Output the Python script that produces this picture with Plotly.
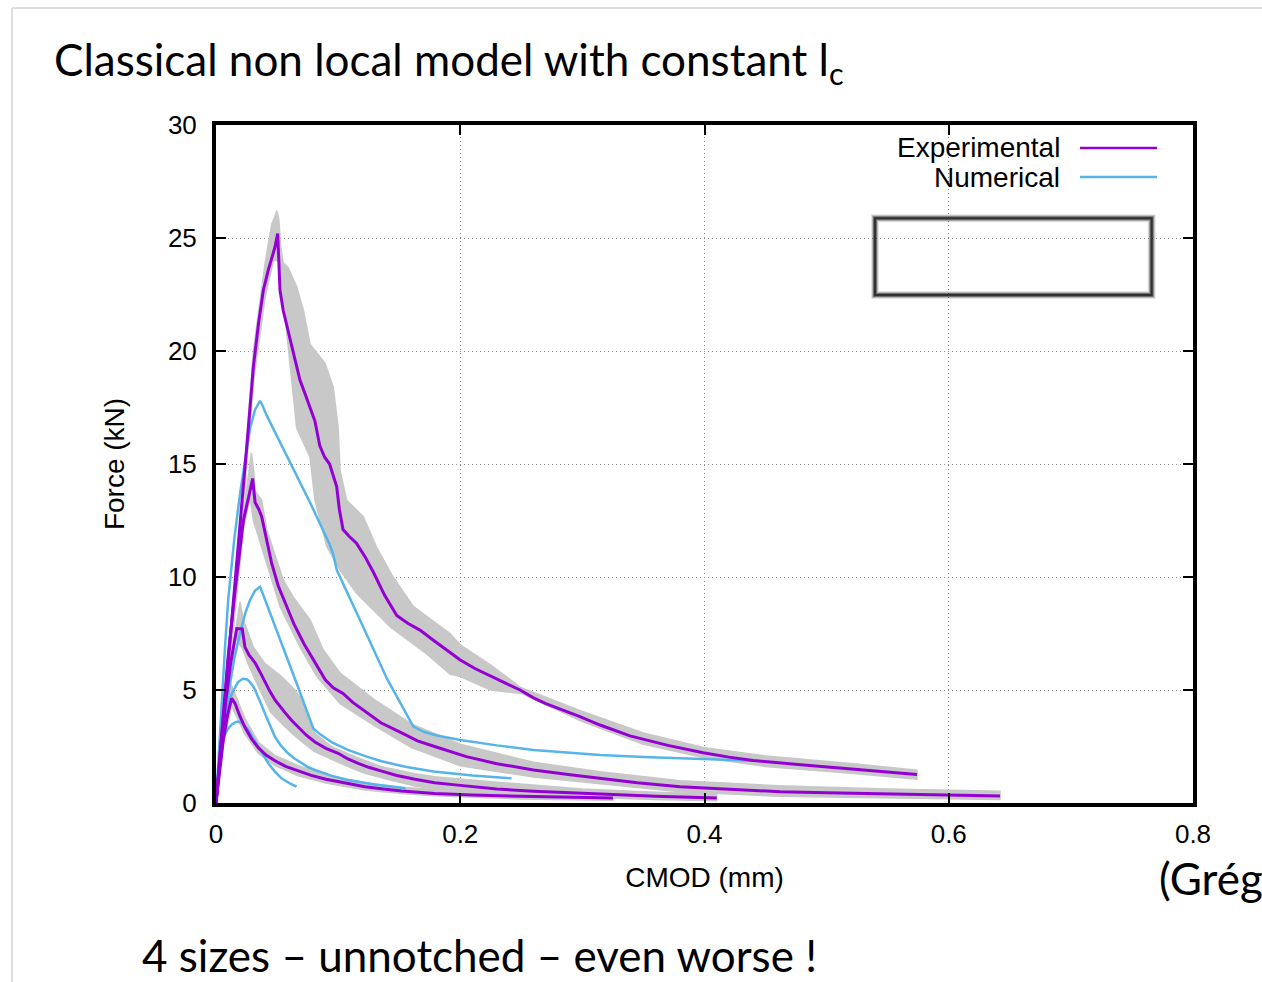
import plotly.graph_objects as go

# ---------------- data (CMOD in mm, force in kN) ----------------
# Experimental mean curves, four specimen sizes (largest first)
exp1_x = [0, 0.005, 0.01, 0.015, 0.0224, 0.0265, 0.0306, 0.035, 0.0388, 0.0429, 0.0483, 0.0505,
          0.0518, 0.0524, 0.055, 0.0606, 0.065, 0.0688, 0.073, 0.077, 0.081, 0.085, 0.089, 0.093,
          0.0988, 0.101, 0.104, 0.109, 0.115, 0.122, 0.129, 0.138, 0.148, 0.157, 0.167, 0.178,
          0.189, 0.2, 0.212, 0.225, 0.237, 0.249, 0.26, 0.27, 0.285, 0.298, 0.3145, 0.339, 0.37,
          0.399, 0.42, 0.44, 0.4765, 0.5165, 0.545, 0.574]
exp1_y = [0, 3.1, 6.2, 9.2, 13.7, 16.6, 19.3, 21.3, 22.7, 23.6, 24.6, 25.2,
          23.5, 22.7, 21.8, 20.5, 19.5, 18.7, 18.1, 17.5, 16.9, 15.8, 15.3, 15.0,
          14.0, 13.0, 12.1, 11.8, 11.5, 10.9, 10.2, 9.2, 8.3, 7.95, 7.65, 7.2,
          6.77, 6.33, 5.95, 5.6, 5.3, 5.0, 4.65, 4.4, 4.1, 3.82, 3.45, 2.97, 2.55,
          2.22, 2.03, 1.88, 1.7, 1.53, 1.38, 1.26]

exp2_x = [0, 0.005, 0.01, 0.015, 0.0224, 0.027, 0.030, 0.032, 0.035, 0.0374, 0.041, 0.0456,
          0.051, 0.057, 0.064, 0.072, 0.08, 0.0895, 0.096, 0.104, 0.112, 0.122, 0.135, 0.152,
          0.165, 0.179, 0.205, 0.23, 0.26, 0.29, 0.3145, 0.345, 0.38, 0.42, 0.462, 0.5, 0.55,
          0.6, 0.642]
exp2_y = [0, 3.4, 6.5, 9.1, 12.5, 13.6, 14.36, 13.3, 13.0, 12.67, 11.7, 10.6,
          9.6, 8.8, 7.9, 7.05, 6.3, 5.45, 5.1, 4.85, 4.45, 4.05, 3.55, 3.1,
          2.75, 2.5, 2.05, 1.74, 1.46, 1.25, 1.09, 0.9, 0.72, 0.6, 0.5, 0.45, 0.4,
          0.35, 0.31]

exp3_x = [0, 0.004, 0.008, 0.012, 0.017, 0.0215, 0.0237, 0.027, 0.032, 0.036, 0.040, 0.044,
          0.0483, 0.0525, 0.0565, 0.062, 0.0674, 0.074, 0.081, 0.09, 0.1, 0.108, 0.1165, 0.125,
          0.135, 0.148, 0.163, 0.179, 0.2, 0.23, 0.26, 0.3, 0.33, 0.36, 0.41]
exp3_y = [0, 2.4, 4.5, 6.2, 7.72, 7.7, 6.9, 6.55, 6.2, 5.8, 5.35, 4.95,
          4.56, 4.25, 4.0, 3.65, 3.35, 3.0, 2.7, 2.42, 2.2, 1.95, 1.75, 1.58,
          1.42, 1.22, 1.05, 0.9, 0.78, 0.62, 0.52, 0.42, 0.35, 0.3, 0.22]

exp4_x = [0, 0.003, 0.006, 0.0095, 0.0128, 0.0156, 0.0195, 0.0237, 0.029, 0.0346, 0.041, 0.0483,
          0.057, 0.0674, 0.078, 0.09, 0.105, 0.122, 0.137, 0.152, 0.179, 0.21, 0.25, 0.29, 0.325]
exp4_y = [0, 1.5, 2.8, 3.9, 4.63, 4.41, 3.85, 3.35, 2.85, 2.45, 2.12, 1.87,
          1.62, 1.42, 1.22, 1.05, 0.88, 0.72, 0.62, 0.53, 0.42, 0.35, 0.3, 0.25, 0.22]

# Scatter envelopes of the test series (upper/right edge, lower/left edge)
band1_up_x = [0, 0.0224, 0.0306, 0.040, 0.0456, 0.050, 0.0515, 0.053, 0.055, 0.059, 0.066, 0.0716,
              0.077, 0.0893, 0.096, 0.100, 0.1016, 0.107, 0.1206, 0.1316, 0.145, 0.1615, 0.1916,
              0.2, 0.225, 0.245, 0.25, 0.3, 0.35, 0.4, 0.45, 0.52, 0.574]
band1_up_y = [0, 14.2, 20.0, 23.8, 25.6, 26.2, 25.8, 24.6, 23.9, 23.7, 22.85, 21.8,
              20.3, 19.45, 18.4, 16.65, 14.7, 13.4, 12.67, 11.3, 10.0, 8.7, 7.5,
              7.0, 6.1, 5.3, 5.1, 4.05, 3.1, 2.45, 2.08, 1.75, 1.45]
band1_lo_x = [0, 0.0224, 0.0306, 0.040, 0.047, 0.0524, 0.055, 0.058, 0.063, 0.066, 0.072, 0.077,
              0.081, 0.0852, 0.0907, 0.1016, 0.115, 0.1425, 0.1725, 0.1916, 0.2, 0.225, 0.25,
              0.3, 0.35, 0.4, 0.45, 0.52, 0.574]
band1_lo_y = [0, 13.2, 18.6, 22.3, 24.0, 24.0, 22.3, 20.8, 18.2, 16.6, 15.9, 15.3,
              13.4, 12.5, 11.35, 10.3, 9.28, 7.8, 6.6, 5.7, 5.6, 5.0, 4.85,
              3.6, 2.6, 2.0, 1.62, 1.32, 1.05]

band2_up_x = [0, 0.01, 0.025, 0.029, 0.031, 0.032, 0.0374, 0.0415, 0.0497, 0.055, 0.063, 0.077,
              0.0879, 0.1016, 0.115, 0.129, 0.16, 0.2, 0.26, 0.3145, 0.38, 0.46, 0.55, 0.642]
band2_up_y = [0, 6.9, 13.9, 15.5, 14.6, 13.8, 13.4, 12.1, 10.75, 9.87, 9.13, 8.1,
              6.77, 5.75, 5.2, 4.6, 3.5, 2.6, 1.8, 1.38, 0.98, 0.76, 0.62, 0.52]
band2_lo_x = [0, 0.0224, 0.028, 0.0306, 0.0415, 0.0524, 0.0688, 0.0825, 0.1016, 0.129, 0.16,
              0.2, 0.26, 0.3145, 0.38, 0.46, 0.55, 0.642]
band2_lo_y = [0, 12.1, 13.5, 12.5, 10.6, 8.7, 6.9, 5.6, 4.4, 3.45, 2.45,
              1.65, 1.15, 0.85, 0.5, 0.3, 0.22, 0.15]

band3_up_x = [0, 0.008, 0.0197, 0.0224, 0.0306, 0.040, 0.0537, 0.0647, 0.070, 0.0756, 0.081,
              0.0948, 0.1138, 0.1357, 0.163, 0.179, 0.23, 0.3, 0.36, 0.41]
band3_up_y = [0, 5.0, 8.9, 8.1, 6.9, 6.18, 5.6, 5.0, 4.56, 3.67, 3.08,
              2.49, 2.05, 1.6, 1.3, 1.16, 0.92, 0.62, 0.48, 0.4]
band3_lo_x = [0, 0.008, 0.016, 0.022, 0.026, 0.035, 0.045, 0.055, 0.065, 0.08, 0.1, 0.12,
              0.14, 0.163, 0.179, 0.23, 0.3, 0.36, 0.41]
band3_lo_y = [0, 4.2, 7.3, 6.8, 6.2, 5.1, 4.0, 3.45, 2.95, 2.3, 1.8, 1.35,
              1.05, 0.75, 0.62, 0.42, 0.25, 0.15, 0.1]

band4_up_x = [0, 0.006, 0.012, 0.0156, 0.0237, 0.0346, 0.0483, 0.0674, 0.09, 0.122, 0.152, 0.179,
              0.25, 0.325]
band4_up_y = [0, 3.0, 5.3, 4.8, 3.75, 2.7, 2.1, 1.65, 1.25, 0.9, 0.7, 0.6,
              0.42, 0.33]
band4_lo_x = [0, 0.006, 0.0128, 0.018, 0.0237, 0.0346, 0.0483, 0.0674, 0.09, 0.122, 0.152, 0.179,
              0.25, 0.325]
band4_lo_y = [0, 2.6, 4.3, 3.7, 3.05, 2.2, 1.65, 1.2, 0.88, 0.58, 0.42, 0.32,
              0.18, 0.12]

# Non-local model predictions, same four sizes
num1_x = [0, 0.002, 0.005, 0.0075, 0.01, 0.015, 0.0197, 0.024, 0.028, 0.032, 0.036, 0.038,
          0.0415, 0.077, 0.093, 0.096, 0.099, 0.12, 0.14, 0.1616, 0.17, 0.18, 0.2, 0.23, 0.26,
          0.29, 0.3145, 0.35, 0.38, 0.41, 0.44]
num1_y = [0, 2.0, 4.8, 7.0, 9.0, 11.7, 13.7, 15.3, 16.6, 17.4, 17.8, 17.6,
          17.15, 13.3, 11.45, 11.0, 10.3, 7.85, 5.5, 3.38, 3.15, 3.0, 2.79, 2.55, 2.35,
          2.22, 2.12, 2.03, 1.97, 1.92, 1.87]

num2_x = [0, 0.003, 0.005, 0.01, 0.015, 0.02, 0.024, 0.028, 0.032, 0.036, 0.038, 0.066, 0.0797,
          0.085, 0.095, 0.108, 0.1234, 0.1356, 0.155, 0.178, 0.21, 0.242]
num2_y = [0, 1.6, 2.6, 4.8, 6.4, 7.6, 8.4, 9.0, 9.4, 9.57, 9.3, 5.3, 3.3,
          3.05, 2.68, 2.35, 2.05, 1.85, 1.6, 1.39, 1.22, 1.09]

num3_x = [0, 0.004, 0.006, 0.01, 0.013, 0.0156, 0.018, 0.022, 0.025, 0.027, 0.03, 0.032, 0.034,
          0.036, 0.040, 0.044, 0.0483, 0.053, 0.059, 0.064, 0.07, 0.075, 0.081, 0.088, 0.095,
          0.108, 0.12, 0.13, 0.14, 0.155]
num3_y = [0, 2.6, 3.3, 4.4, 4.85, 5.15, 5.35, 5.5, 5.48, 5.4, 5.2, 5.0, 4.78,
          4.5, 3.97, 3.45, 2.93, 2.55, 2.2, 1.98, 1.78, 1.6, 1.46, 1.32, 1.2,
          1.02, 0.9, 0.82, 0.75, 0.65]

num4_x = [0, 0.001, 0.0047, 0.007, 0.01, 0.013, 0.016, 0.0183, 0.021, 0.024, 0.0265, 0.030,
          0.0346, 0.0428, 0.048, 0.0537, 0.06, 0.066]
num4_y = [0, 0.8, 2.64, 3.0, 3.3, 3.48, 3.58, 3.6, 3.55, 3.4, 3.23, 2.9,
          2.49, 1.76, 1.4, 1.09, 0.88, 0.72]

x_ticks = [0, 0.2, 0.4, 0.6, 0.8]
y_ticks = [0, 5, 10, 15, 20, 25, 30]

# ---------------- styling ----------------
PURPLE = "#9400d3"
BLUE = "#56b4e9"
BAND = "#c8c8c8"
PLOT_FONT = "Liberation Sans, Arial, sans-serif"
SLIDE_FONT = "Lato, Calibri, sans-serif"
TICK_FONT = dict(family=PLOT_FONT, size=26, color="black")
LABEL_FONT = dict(family=PLOT_FONT, size=28, color="black")

fig = go.Figure()

bands = [(band1_up_x, band1_up_y, band1_lo_x, band1_lo_y),
         (band2_up_x, band2_up_y, band2_lo_x, band2_lo_y),
         (band3_up_x, band3_up_y, band3_lo_x, band3_lo_y),
         (band4_up_x, band4_up_y, band4_lo_x, band4_lo_y)]
for ux, uy, lx, ly in bands:
    fig.add_trace(go.Scatter(
        x=list(ux) + list(lx)[::-1], y=list(uy) + list(ly)[::-1],
        fill="toself", fillcolor=BAND, mode="lines",
        line=dict(width=1.5, color=BAND), hoverinfo="skip", showlegend=False))

for nx, ny in [(num1_x, num1_y), (num2_x, num2_y), (num3_x, num3_y), (num4_x, num4_y)]:
    fig.add_trace(go.Scatter(x=nx, y=ny, mode="lines",
                             line=dict(color=BLUE, width=2.5), showlegend=False))

for ex, ey in [(exp1_x, exp1_y), (exp2_x, exp2_y), (exp3_x, exp3_y), (exp4_x, exp4_y)]:
    fig.add_trace(go.Scatter(x=ex, y=ey, mode="lines",
                             line=dict(color=PURPLE, width=3), showlegend=False))

axis_common = dict(
    showline=True, linecolor="black", linewidth=4, mirror="ticks",
    ticks="inside", ticklen=10, tickwidth=2, tickcolor="black",
    showgrid=True, gridcolor="#8c8c8c", gridwidth=1, griddash="1px,3px",
    zeroline=False, tickfont=TICK_FONT,
)
fig.update_xaxes(range=[0, 0.8], tickvals=x_ticks, ticktext=[f"{v:g}" for v in x_ticks],
                 ticklabelstandoff=5,
                 title=dict(text="CMOD (mm)", font=LABEL_FONT, standoff=20),
                 **axis_common)
fig.update_yaxes(range=[0, 30], tickvals=y_ticks, ticktext=[str(v) for v in y_ticks],
                 ticklabelstandoff=10,
                 title=dict(text="Force (kN)", font=LABEL_FONT, standoff=36),
                 **axis_common)

shapes = []
# key area is opaque: hide the grid behind it
shapes.append(dict(type="rect", xref="paper", yref="paper", x0=0.654, x1=0.9765, y0=0.72, y1=1.0,
                   fillcolor="white", line=dict(width=0), layer="between"))
# soft-edged empty frame below the key
for w, c in [(8, "rgba(0,0,0,0.10)"), (6, "rgba(0,0,0,0.20)"), (4, "rgba(40,40,40,0.5)"),
             (2, "rgba(30,30,30,0.75)")]:
    shapes.append(dict(type="rect", xref="paper", yref="paper", x0=0.6745, x1=0.9577,
                       y0=0.7493, y1=0.8624, line=dict(width=w, color=c), layer="above"))
# key line samples
shapes.append(dict(type="line", xref="paper", yref="paper", x0=0.8843, x1=0.9632, y0=0.9661,
                   y1=0.9661, line=dict(color=PURPLE, width=2.5)))
shapes.append(dict(type="line", xref="paper", yref="paper", x0=0.8843, x1=0.9632, y0=0.9233,
                   y1=0.9233, line=dict(color=BLUE, width=2.5)))
# slide border
shapes.append(dict(type="line", xref="paper", yref="paper", x0=-0.2088, x1=1.08, y0=1.1726,
                   y1=1.1726, line=dict(color="#d4d4d4", width=1.5)))
shapes.append(dict(type="line", xref="paper", yref="paper", x0=-0.2088, x1=-0.2088, y0=1.1726,
                   y1=-0.27, line=dict(color="#d4d4d4", width=1.5)))

annotations = [
    dict(text="Experimental", xref="paper", yref="paper", x=0.866, y=0.9661, xanchor="right",
         yanchor="middle", showarrow=False, font=LABEL_FONT),
    dict(text="Numerical", xref="paper", yref="paper", x=0.866, y=0.9233, xanchor="right",
         yanchor="middle", showarrow=False, font=LABEL_FONT),
    dict(text="Classical non local model with constant l<sub>c</sub>", xref="paper", yref="paper",
         x=-0.1679, y=1.0929, xanchor="left", yanchor="middle", showarrow=False,
         font=dict(family=SLIDE_FONT, size=44, color="black")),
    dict(text="4 sizes – unnotched – even worse !", xref="paper", yref="paper",
         x=-0.0778, y=-0.2242, xanchor="left", yanchor="middle", showarrow=False,
         font=dict(family=SLIDE_FONT, size=44, color="black")),
    dict(text="(Grég", xref="paper", yref="paper", x=0.9632, y=-0.1106, xanchor="left",
         yanchor="middle", showarrow=False, font=dict(family=SLIDE_FONT, size=44, color="black")),
]

fig.update_layout(
    width=1262, height=982,
    margin=dict(l=216, r=69, t=125, b=179, autoexpand=False),
    paper_bgcolor="white", plot_bgcolor="white",
    font=dict(color="black"),
    showlegend=False, shapes=shapes, annotations=annotations,
)

fig.write_html("out.html")
